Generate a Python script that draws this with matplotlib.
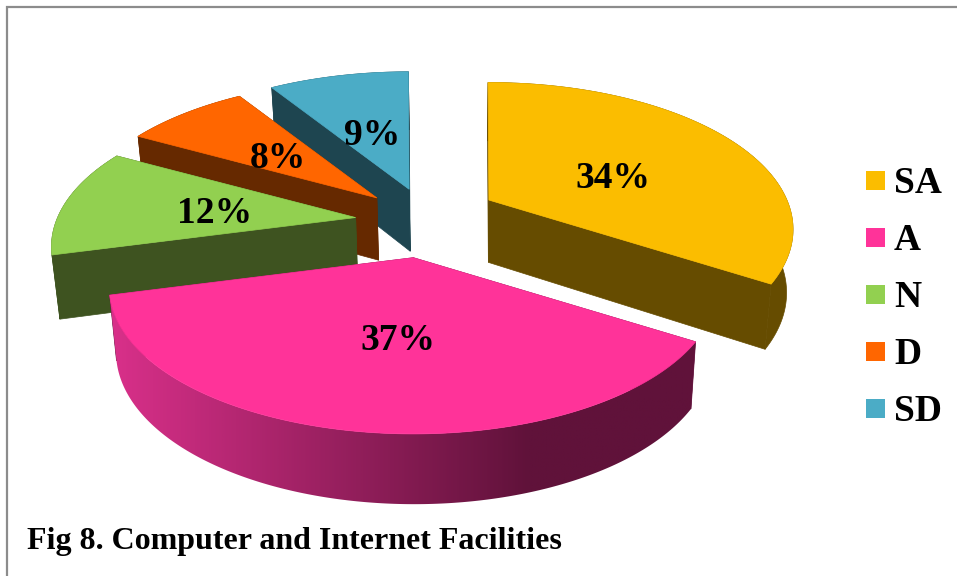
import numpy as np
import matplotlib
matplotlib.use('Agg')
import matplotlib.pyplot as plt
from matplotlib.colors import LinearSegmentedColormap
from matplotlib.patches import Polygon

categories = ['SA', 'A', 'N', 'D', 'SD']
values = [34, 37, 12, 8, 9]
top_colors = ['#FBBD00', '#FF3399', '#92D050', '#FF6600', '#4BACC6']
wall_colors = ['#664C00', '#661440', '#3E5320', '#662900', '#1E4550']
title = 'Fig 8. Computer and Internet Facilities'

# exploded pie layout
explode = [0.265, 0.256, 0.235, 0.235, 0.238]
explode_nudge = [-7, 0, 0.7, 3.6, 3.5]
label_shift = [(6.5, 9), (8, 11), (-4, 4), (-3, 3), (-1, 5)]
start_angle = -0.2
draw_order = [4, 3, 2, 1, 0]

CX, CY = 425, 222
RX, RY = 298, 141
PERSP = 0.2
LABEL_R = 0.47


def project(u, v):
    s = 1 / (1 + PERSP * v)
    return RX * u * s, -RY * v * s


def lower(pts):
    # where a point on the top face lands on the bottom face
    pts = np.asarray(pts, dtype=float)
    out = pts.copy()
    out[:, 0] = pts[:, 0] + (462 - pts[:, 0]) * 0.0195
    out[:, 1] = pts[:, 1] * 1.034 + 55.5
    return out


fig = plt.figure(figsize=(9.57, 5.76), dpi=100)
ax = fig.add_axes([0, 0, 1, 1])
ax.axis('off')

ax.plot([7, 7, 957], [576, 6.5, 6.5], color='#8C8C8C', lw=1.6, solid_joinstyle='miter')

rim_cmap = LinearSegmentedColormap.from_list('rim', ['#D9308A', '#60123A'])

shares = np.array(values) / sum(values) * 360
ends = start_angle + np.cumsum(shares)
starts = ends - shares

for order, i in enumerate(draw_order):
    z = 1 + order
    mid = np.radians((starts[i] + ends[i]) / 2)
    bearing = mid + np.radians(explode_nudge[i])
    ax0 = CX + RX * explode[i] * np.sin(bearing)
    ay0 = CY - RY * explode[i] * np.cos(bearing)

    th = np.radians(np.linspace(starts[i], ends[i], 200))
    dx, dy = project(np.sin(th), np.cos(th))
    arc = np.column_stack([ax0 + dx, ay0 + dy])
    apex = np.array([[ax0, ay0]])

    # the two cut faces
    for edge in (arc[0], arc[-1]):
        face = np.vstack([apex, [edge], lower([edge]), lower(apex)])
        ax.fill(face[:, 0], face[:, 1], color=wall_colors[i], lw=0.5, zorder=z)

    # rim, only the big front slice has a light sweep on it
    rim = np.vstack([arc, lower(arc)[::-1]])
    if categories[i] == 'A':
        patch = Polygon(rim, closed=True, facecolor='none', edgecolor='none', zorder=z)
        ax.add_patch(patch)
        # sweep runs from 110 to 530, then the rim stays dark up to the corner
        grad = np.clip(np.linspace(-20 / 420, 190 / 420 + 1, 512), 0, 1).reshape(1, -1)
        img = ax.imshow(grad, cmap=rim_cmap, vmin=0, vmax=1, aspect='auto',
                        extent=[90, 720, 520, 280], zorder=z + 0.1)
        img.set_clip_path(patch)
    else:
        ax.fill(rim[:, 0], rim[:, 1], color=wall_colors[i], lw=0.5, zorder=z)

    # top face
    top = np.vstack([apex, arc])
    ax.fill(top[:, 0], top[:, 1], color=top_colors[i], lw=0.5, zorder=z + 0.2)

    lx, ly = project(LABEL_R * np.sin(mid), LABEL_R * np.cos(mid))
    ax.text(ax0 + lx + label_shift[i][0], ay0 + ly + label_shift[i][1], f'{values[i]}%',
            ha='center', va='center', family='Liberation Serif', weight='bold',
            fontsize=27, color='black', zorder=10)

# legend
for i, name in enumerate(categories):
    y = 180.5 + 57 * i
    ax.fill([866, 885, 885, 866], [y - 9.5, y - 9.5, y + 9.5, y + 9.5], color=top_colors[i], lw=0)
    ax.text(894, y + 3, name, ha='left', va='center', family='Liberation Serif',
            weight='bold', fontsize=27, color='black')

ax.text(27, 542, title, ha='left', va='center', family='Liberation Serif',
        weight='bold', fontsize=23, color='black')

ax.set_xlim(0, 957)
ax.set_ylim(576, 0)

fig.savefig('out.png', dpi=100)
